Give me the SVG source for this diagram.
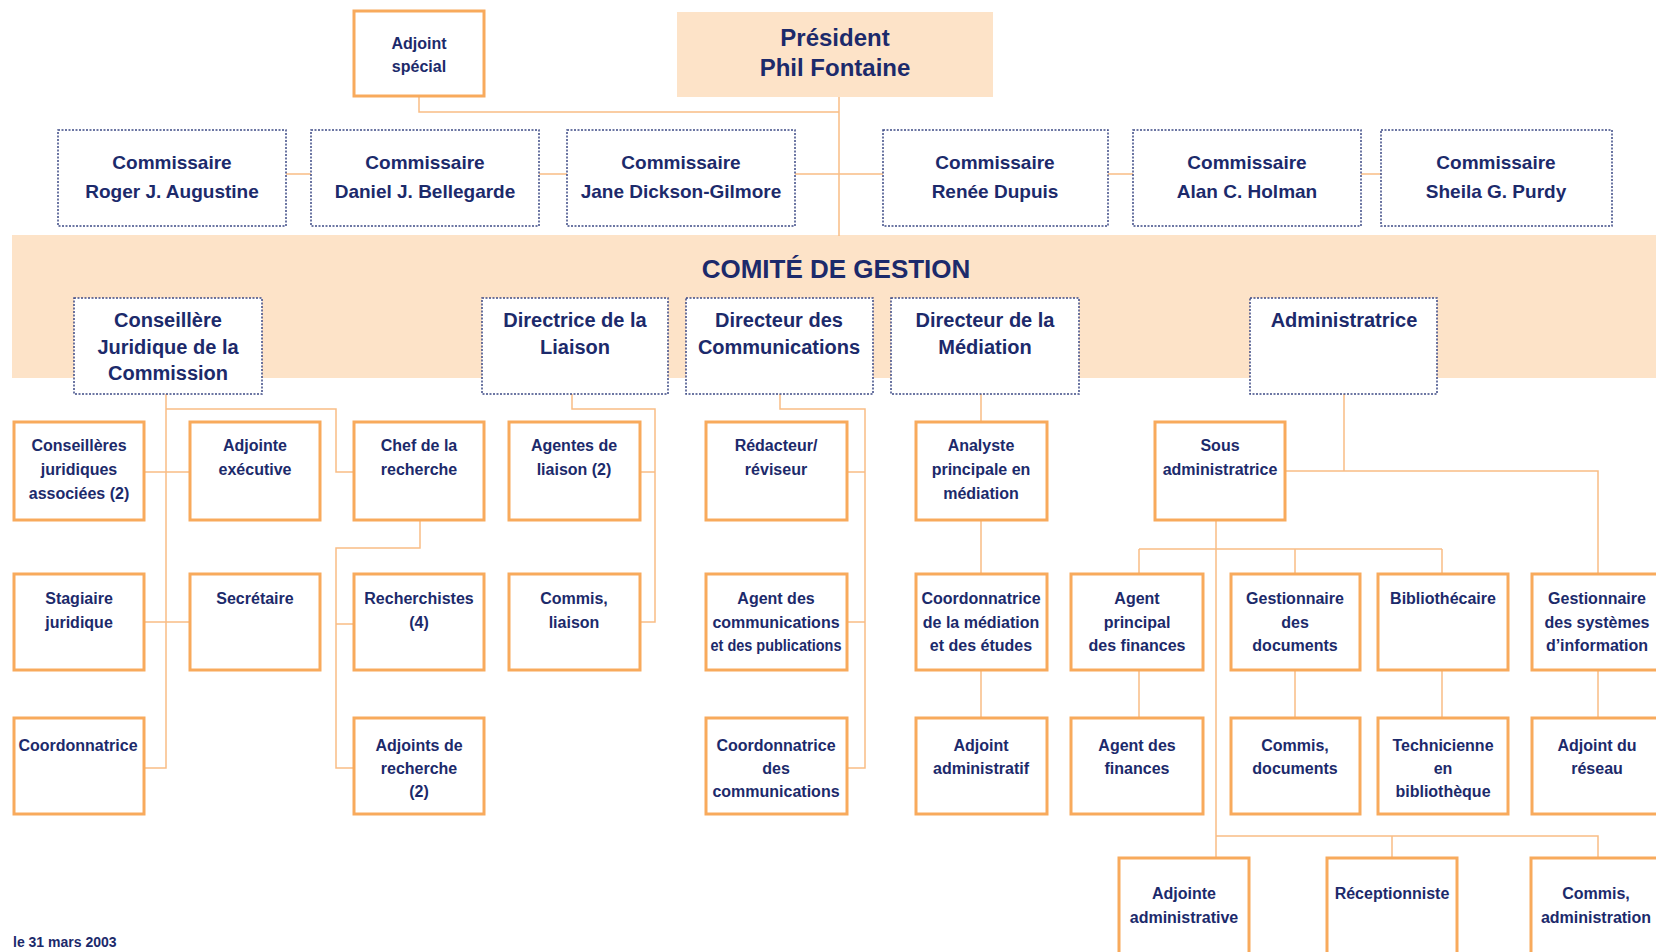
<svg xmlns="http://www.w3.org/2000/svg" width="1656" height="952" viewBox="0 0 1656 952">
<style>
.band{fill:#fde3c8}
.top{fill:#fff;stroke:#3d4a85;stroke-width:1.5;stroke-dasharray:2 1.5}
.org{fill:#fff;stroke:#f8aa5c;stroke-width:3}
.t{font-family:"Liberation Sans",Arial,sans-serif;font-weight:bold;fill:#1c2a6b;text-anchor:middle}
.s{font-size:16px}
.m{font-size:20px}
.c{font-size:19px}
.conn path{fill:none;stroke:#f9bd85;stroke-width:1.5}
</style>
<rect width="1656" height="952" fill="#fff"/>
<rect class="band" x="12" y="235" width="1644" height="143"/>

<g class="conn" id="connectors">
<path d="M419 96V112H839"/>
<path d="M839 97V236"/>
<path d="M286 174H311M539 174H567M795 174H883M1108 174H1133M1361 174H1381"/>
<path d="M166 394V768H144M144 472H190M144 622H190M166 409H336V472H354"/>
<path d="M420 520V548H336V768H354M336 624H354"/>
<path d="M572 394V409H655V622H640M640 472H655"/>
<path d="M780 394V409H865V768H847M847 472H865M847 622H865"/>
<path d="M981 394V422M981 520V574M981 670V718"/>
<path d="M1344 394V471M1285 471H1598V574M1598 670V718"/>
<path d="M1216 520V836H1598V858M1392 836V858M1216 836V858"/>
<path d="M1139 549H1442M1139 549V574M1295 549V574M1442 549V574M1139 670V718M1295 670V718M1442 670V718"/>
</g>

<g id="president"><rect class="band" x="677" y="12" width="316" height="85"/>
<text class="t" x="835" y="46" font-size="24">Président</text><text class="t" x="835" y="76" font-size="24">Phil Fontaine</text></g>
<g id="adjoint-special"><rect class="org" x="354" y="11" width="130" height="85"/>
<text class="t s" x="419" y="49">Adjoint</text><text class="t s" x="419" y="72">spécial</text></g>

<g id="comm1"><rect class="top" x="58" y="130" width="228" height="96"/><text class="t c" x="172" y="169">Commissaire</text><text class="t c" x="172" y="198">Roger J. Augustine</text></g>
<g id="comm2"><rect class="top" x="311" y="130" width="228" height="96"/><text class="t c" x="425" y="169">Commissaire</text><text class="t c" x="425" y="198">Daniel J. Bellegarde</text></g>
<g id="comm3"><rect class="top" x="567" y="130" width="228" height="96"/><text class="t c" x="681" y="169">Commissaire</text><text class="t c" x="681" y="198">Jane Dickson-Gilmore</text></g>
<g id="comm4"><rect class="top" x="883" y="130" width="225" height="96"/><text class="t c" x="995" y="169">Commissaire</text><text class="t c" x="995" y="198">Renée Dupuis</text></g>
<g id="comm5"><rect class="top" x="1133" y="130" width="228" height="96"/><text class="t c" x="1247" y="169">Commissaire</text><text class="t c" x="1247" y="198">Alan C. Holman</text></g>
<g id="comm6"><rect class="top" x="1381" y="130" width="231" height="96"/><text class="t c" x="1496" y="169">Commissaire</text><text class="t c" x="1496" y="198">Sheila G. Purdy</text></g>

<g id="comite"><text class="t" x="836" y="278" font-size="26">COMITÉ DE GESTION</text></g>

<g id="conseillere"><rect class="top" x="74" y="298" width="188" height="96"/><text class="t m" x="168" y="327">Conseillère</text><text class="t m" x="168" y="354">Juridique de la</text><text class="t m" x="168" y="380">Commission</text></g>
<g id="liaison"><rect class="top" x="482" y="298" width="186" height="96"/><text class="t m" x="575" y="327">Directrice de la</text><text class="t m" x="575" y="354">Liaison</text></g>
<g id="communications"><rect class="top" x="686" y="298" width="187" height="96"/><text class="t m" x="779" y="327">Directeur des</text><text class="t m" x="779" y="354">Communications</text></g>
<g id="mediation"><rect class="top" x="891" y="298" width="188" height="96"/><text class="t m" x="985" y="327">Directeur de la</text><text class="t m" x="985" y="354">Médiation</text></g>
<g id="administratrice"><rect class="top" x="1250" y="298" width="187" height="96"/><text class="t m" x="1344" y="327">Administratrice</text></g>

<g id="cons-assoc"><rect class="org" x="14" y="422" width="130" height="98"/><text class="t s" x="79" y="451">Conseillères</text><text class="t s" x="79" y="475">juridiques</text><text class="t s" x="79" y="499">associées (2)</text></g>
<g id="adj-exec"><rect class="org" x="190" y="422" width="130" height="98"/><text class="t s" x="255" y="451">Adjointe</text><text class="t s" x="255" y="475">exécutive</text></g>
<g id="chef-rech"><rect class="org" x="354" y="422" width="130" height="98"/><text class="t s" x="419" y="451">Chef de la</text><text class="t s" x="419" y="475">recherche</text></g>
<g id="agentes-liaison"><rect class="org" x="509" y="422" width="131" height="98"/><text class="t s" x="574" y="451">Agentes de</text><text class="t s" x="574" y="475">liaison (2)</text></g>
<g id="redacteur"><rect class="org" x="706" y="422" width="141" height="98"/><text class="t s" x="776" y="451">Rédacteur/</text><text class="t s" x="776" y="475">réviseur</text></g>
<g id="analyste"><rect class="org" x="916" y="422" width="131" height="98"/><text class="t s" x="981" y="451">Analyste</text><text class="t s" x="981" y="475">principale en</text><text class="t s" x="981" y="499">médiation</text></g>
<g id="sous-admin"><rect class="org" x="1155" y="422" width="130" height="98"/><text class="t s" x="1220" y="451">Sous</text><text class="t s" x="1220" y="475">administratrice</text></g>

<g id="stagiaire"><rect class="org" x="14" y="574" width="130" height="96"/><text class="t s" x="79" y="604">Stagiaire</text><text class="t s" x="79" y="628">juridique</text></g>
<g id="secretaire"><rect class="org" x="190" y="574" width="130" height="96"/><text class="t s" x="255" y="604">Secrétaire</text></g>
<g id="recherchistes"><rect class="org" x="354" y="574" width="130" height="96"/><text class="t s" x="419" y="604">Recherchistes</text><text class="t s" x="419" y="628">(4)</text></g>
<g id="commis-liaison"><rect class="org" x="509" y="574" width="131" height="96"/><text class="t s" x="574" y="604">Commis,</text><text class="t s" x="574" y="628">liaison</text></g>
<g id="agent-comm"><rect class="org" x="706" y="574" width="141" height="96"/><text class="t s" x="776" y="604">Agent des</text><text class="t s" x="776" y="628">communications</text><text class="t s" x="776" y="651" textLength="131" lengthAdjust="spacingAndGlyphs">et des publications</text></g>
<g id="coord-med"><rect class="org" x="916" y="574" width="131" height="96"/><text class="t s" x="981" y="604">Coordonnatrice</text><text class="t s" x="981" y="628">de la médiation</text><text class="t s" x="981" y="651">et des études</text></g>
<g id="agent-princ-fin"><rect class="org" x="1071" y="574" width="132" height="96"/><text class="t s" x="1137" y="604">Agent</text><text class="t s" x="1137" y="628">principal</text><text class="t s" x="1137" y="651">des finances</text></g>
<g id="gest-docs"><rect class="org" x="1231" y="574" width="129" height="96"/><text class="t s" x="1295" y="604">Gestionnaire</text><text class="t s" x="1295" y="628">des</text><text class="t s" x="1295" y="651">documents</text></g>
<g id="bibliothecaire"><rect class="org" x="1378" y="574" width="130" height="96"/><text class="t s" x="1443" y="604">Bibliothécaire</text></g>
<g id="gest-si"><rect class="org" x="1532" y="574" width="130" height="96"/><text class="t s" x="1597" y="604">Gestionnaire</text><text class="t s" x="1597" y="628">des systèmes</text><text class="t s" x="1597" y="651">d’information</text></g>

<g id="coordonnatrice"><rect class="org" x="14" y="718" width="130" height="96"/><text class="t s" x="78" y="751">Coordonnatrice</text></g>
<g id="adj-rech"><rect class="org" x="354" y="718" width="130" height="96"/><text class="t s" x="419" y="751">Adjoints de</text><text class="t s" x="419" y="774">recherche</text><text class="t s" x="419" y="797">(2)</text></g>
<g id="coord-comm"><rect class="org" x="706" y="718" width="141" height="96"/><text class="t s" x="776" y="751">Coordonnatrice</text><text class="t s" x="776" y="774">des</text><text class="t s" x="776" y="797">communications</text></g>
<g id="adj-admin"><rect class="org" x="916" y="718" width="131" height="96"/><text class="t s" x="981" y="751">Adjoint</text><text class="t s" x="981" y="774">administratif</text></g>
<g id="agent-fin"><rect class="org" x="1071" y="718" width="132" height="96"/><text class="t s" x="1137" y="751">Agent des</text><text class="t s" x="1137" y="774">finances</text></g>
<g id="commis-docs"><rect class="org" x="1231" y="718" width="129" height="96"/><text class="t s" x="1295" y="751">Commis,</text><text class="t s" x="1295" y="774">documents</text></g>
<g id="technicienne"><rect class="org" x="1378" y="718" width="130" height="96"/><text class="t s" x="1443" y="751">Technicienne</text><text class="t s" x="1443" y="774">en</text><text class="t s" x="1443" y="797">bibliothèque</text></g>
<g id="adj-reseau"><rect class="org" x="1532" y="718" width="130" height="96"/><text class="t s" x="1597" y="751">Adjoint du</text><text class="t s" x="1597" y="774">réseau</text></g>

<g id="adjointe-admin"><rect class="org" x="1119" y="858" width="130" height="110"/><text class="t s" x="1184" y="899">Adjointe</text><text class="t s" x="1184" y="923">administrative</text></g>
<g id="receptionniste"><rect class="org" x="1327" y="858" width="130" height="110"/><text class="t s" x="1392" y="899">Réceptionniste</text></g>
<g id="commis-admin"><rect class="org" x="1531" y="858" width="130" height="110"/><text class="t s" x="1596" y="899">Commis,</text><text class="t s" x="1596" y="923">administration</text></g>

<g id="footer"><text class="t" x="13" y="947" font-size="14" style="text-anchor:start">le 31 mars 2003</text></g>
</svg>
